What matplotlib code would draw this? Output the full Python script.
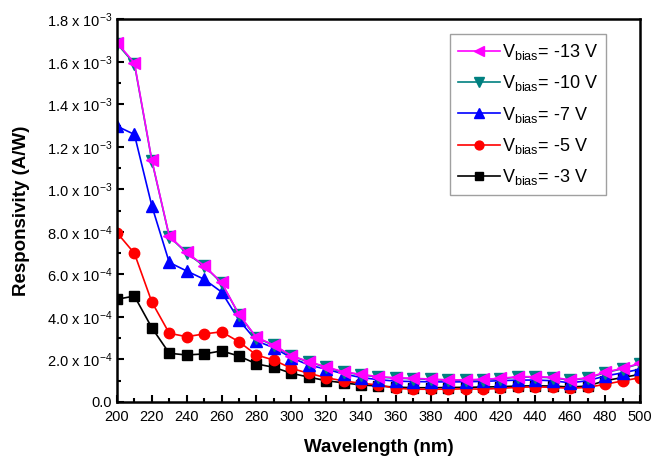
import numpy as np
import matplotlib
matplotlib.use("Agg")
import matplotlib.pyplot as plt
from matplotlib.ticker import MultipleLocator, FuncFormatter

plt.rcParams['font.family'] = ['Liberation Sans', 'DejaVu Sans']
plt.rcParams['mathtext.fontset'] = 'custom'
plt.rcParams['mathtext.rm'] = 'Liberation Sans'
plt.rcParams['mathtext.default'] = 'regular'

wl = np.arange(200, 501, 10)

# responsivity in units of 1e-3 A/W
r13 = [1.69, 1.594, 1.137, 0.78, 0.703, 0.641, 0.562, 0.412, 0.304, 0.268, 0.218, 0.19, 0.165,
       0.142, 0.13, 0.119, 0.114, 0.111, 0.108, 0.104, 0.104, 0.107, 0.111, 0.119, 0.119, 0.116,
       0.104, 0.114, 0.14, 0.158, 0.182]
r10 = [1.685, 1.59, 1.135, 0.778, 0.70, 0.639, 0.56, 0.41, 0.302, 0.266, 0.216, 0.188, 0.163,
       0.14, 0.128, 0.117, 0.112, 0.109, 0.106, 0.102, 0.102, 0.105, 0.109, 0.117, 0.117, 0.114,
       0.102, 0.112, 0.138, 0.156, 0.18]
r7 = [1.297, 1.258, 0.922, 0.656, 0.616, 0.577, 0.517, 0.385, 0.287, 0.255, 0.208, 0.174, 0.154,
      0.132, 0.115, 0.105, 0.098, 0.096, 0.095, 0.094, 0.095, 0.097, 0.1, 0.103, 0.103, 0.1,
      0.09, 0.1, 0.122, 0.137, 0.154]
r5 = [0.796, 0.699, 0.47, 0.323, 0.307, 0.32, 0.33, 0.283, 0.221, 0.197, 0.158, 0.135, 0.114,
      0.099, 0.088, 0.08, 0.064, 0.06, 0.06, 0.06, 0.062, 0.06, 0.064, 0.069, 0.071, 0.069,
      0.064, 0.069, 0.083, 0.099, 0.114]
r3 = [0.483, 0.498, 0.349, 0.229, 0.221, 0.226, 0.24, 0.216, 0.179, 0.163, 0.135, 0.117, 0.1,
      0.09, 0.08, 0.075, 0.07, 0.067, 0.067, 0.068, 0.069, 0.07, 0.072, 0.075, 0.076, 0.075,
      0.07, 0.075, 0.1, 0.115, 0.13]

fig = plt.figure(figsize=(6.62, 4.57), dpi=100)
ax = fig.add_axes([0.1767, 0.1204, 0.79, 0.8376])

s = 1e-3
ax.plot(wl, np.array(r3) * s, '-s', color='black', ms=7, lw=1.2, label=r'V$_{bias}$= -3 V')
ax.plot(wl, np.array(r5) * s, '-o', color='#FF0000', ms=7.5, lw=1.2, label=r'V$_{bias}$= -5 V')
ax.plot(wl, np.array(r7) * s, '-^', color='#0000FF', ms=8, lw=1.2, label=r'V$_{bias}$= -7 V')
ax.plot(wl, np.array(r10) * s, '-v', color='#008080', ms=8.5, lw=1.2, label=r'V$_{bias}$= -10 V')
ax.plot(wl, np.array(r13) * s, '-<', color='#FF00FF', ms=8.5, lw=1.2, label=r'V$_{bias}$= -13 V')

ax.set_xlim(200, 500)
ax.set_ylim(0, 1.8e-3)
ax.xaxis.set_major_locator(MultipleLocator(20))
ax.xaxis.set_minor_locator(MultipleLocator(10))
ax.yaxis.set_major_locator(MultipleLocator(2e-4))
ax.yaxis.set_minor_locator(MultipleLocator(1e-4))


def fmt(v, pos):
    if abs(v) < 1e-9:
        return '0.0'
    if v >= 9.99e-4:
        return '%.1f x 10$^{-3}$' % (v * 1e3)
    return '%.1f x 10$^{-4}$' % (v * 1e4)


ax.yaxis.set_major_formatter(FuncFormatter(fmt))
ax.tick_params(which='both', direction='in', top=False, right=False, labelsize=10.5, width=1.5)
ax.tick_params(which='major', length=5)
ax.tick_params(which='minor', length=3)
ax.tick_params(axis='x', pad=6)
for sp in ax.spines.values():
    sp.set_linewidth(1.8)

ax.set_xlabel('Wavelength (nm)', fontsize=13.5, fontweight='bold', va='center')
ax.set_ylabel('Responsivity (A/W)', fontsize=13.5, fontweight='bold', va='center')
ax.xaxis.set_label_coords(0.5, -0.120)
ax.yaxis.set_label_coords(-0.182, 0.5)

handles, labels = ax.get_legend_handles_labels()
leg = ax.legend(handles[::-1], labels[::-1], loc='upper right', bbox_to_anchor=(0.935, 0.961),
                fontsize=13, frameon=True, fancybox=False, edgecolor='#888888',
                handlelength=2.3, labelspacing=0.62, borderpad=0.45, handletextpad=0.1,
                markerscale=0.85, borderaxespad=0)
leg.get_frame().set_linewidth(1.0)

fig.savefig('out.png', dpi=100)
